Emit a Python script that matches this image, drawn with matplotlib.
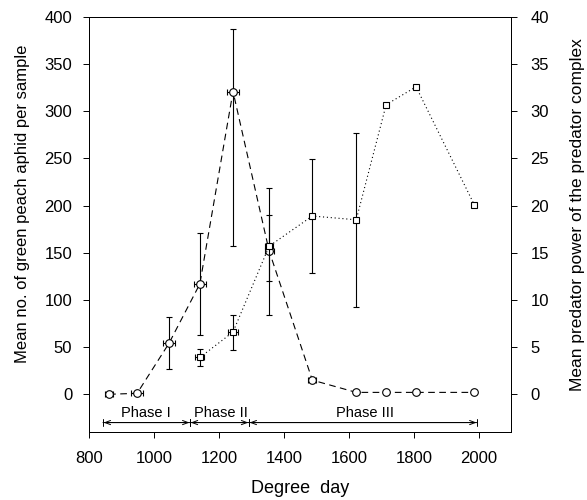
import matplotlib
matplotlib.use("Agg")
import matplotlib.pyplot as plt

plt.rcParams['font.family'] = ['Liberation Sans', 'DejaVu Sans']

# aphid counts (left axis), open circles, dashed line
aphid_x = [862, 948, 1046, 1141, 1243, 1354, 1487, 1622, 1714, 1806, 1985]
aphid_y = [0, 1, 54, 117, 321, 152, 15, 2, 2, 2, 2]
aphid_lo = [0, 0, 27, 63, 157, 84, 15, 2, 2, 2, 2]
aphid_hi = [0, 1, 82, 171, 387, 190, 15, 2, 2, 2, 2]
aphid_xerr = [12, 18, 18, 18, 18, 14, 12, 0, 0, 0, 0]

# predator power (right axis), open squares, dotted line
pred_x = [1141, 1243, 1354, 1487, 1622, 1714, 1806, 1985]
pred_y = [3.9, 6.6, 15.7, 18.9, 18.5, 30.7, 32.6, 20.1]
pred_lo = [3.0, 4.7, 12.0, 12.9, 9.2, 30.7, 32.6, 20.1]
pred_hi = [4.8, 8.4, 21.9, 24.9, 27.7, 30.7, 32.6, 20.1]
pred_xerr = [14, 14, 12, 0, 0, 0, 0, 0]

phase_names = ["Phase I", "Phase II", "Phase III"]
phase_edges = [843, 1111, 1292, 1994]
phase_label_x = [975, 1206, 1650]

fig = plt.figure(figsize=(5.87, 5.0), dpi=100)
ax = fig.add_axes([0.1516, 0.136, 0.7189, 0.830])
ax2 = ax.twinx()

lw = 0.8
ax.errorbar(aphid_x, aphid_y,
            yerr=[[y - l for y, l in zip(aphid_y, aphid_lo)],
                  [h - y for y, h in zip(aphid_y, aphid_hi)]],
            xerr=aphid_xerr, fmt='o', ls=(0, (6, 4)), color='black', lw=lw,
            elinewidth=0.8, capsize=2.5, capthick=0.8,
            mfc='white', mec='black', ms=5.5, mew=0.8, zorder=3)

ax2.errorbar(pred_x, pred_y,
             yerr=[[y - l for y, l in zip(pred_y, pred_lo)],
                   [h - y for y, h in zip(pred_y, pred_hi)]],
             xerr=pred_xerr, fmt='s', ls=(0, (1, 2.5)), color='black', lw=lw,
             elinewidth=0.8, capsize=2.5, capthick=0.8,
             mfc='white', mec='black', ms=5, mew=0.8, zorder=3)

# phase arrows
arrow_y = -30
for i, name in enumerate(phase_names):
    ax.annotate('', xy=(phase_edges[i + 1], arrow_y), xytext=(phase_edges[i], arrow_y),
                arrowprops=dict(arrowstyle='|-|,widthA=0.25,widthB=0.25', lw=0.7,
                                color='black', shrinkA=0, shrinkB=0))
    ax.annotate('', xy=(phase_edges[i + 1] - 2, arrow_y), xytext=(phase_edges[i] + 2, arrow_y),
                arrowprops=dict(arrowstyle='<->,head_length=0.4,head_width=0.15', lw=0.7,
                                color='black', shrinkA=0, shrinkB=0))
    ax.text(phase_label_x[i], arrow_y + 3, name, ha='center', va='bottom', fontsize=10.5)

ax.set_xlim(800, 2098)
ax.set_ylim(-40, 400)
ax2.set_ylim(-4, 40)

ax.set_xticks([800, 1000, 1200, 1400, 1600, 1800, 2000])
ax.set_yticks([0, 50, 100, 150, 200, 250, 300, 350, 400])
ax2.set_yticks([0, 5, 10, 15, 20, 25, 30, 35, 40])

for a in (ax, ax2):
    a.tick_params(labelsize=12, length=4, width=0.7, direction='out')
    for s in a.spines.values():
        s.set_linewidth(0.7)
ax.tick_params(axis='y', pad=8)
ax2.tick_params(axis='y', pad=10)
ax.tick_params(axis='x', pad=10)

ax.set_xlabel("Degree  day", fontsize=13)
ax.xaxis.set_label_coords(0.5, -0.115)
ax.set_ylabel("Mean no. of green peach aphid per sample", fontsize=12)
ax.yaxis.set_label_coords(-0.14, 0.549)
ax2.set_ylabel("Mean predator power of the predator complex", fontsize=12.5)
ax2.yaxis.set_label_coords(1.14, 0.525)

fig.savefig("out.png", dpi=100)
